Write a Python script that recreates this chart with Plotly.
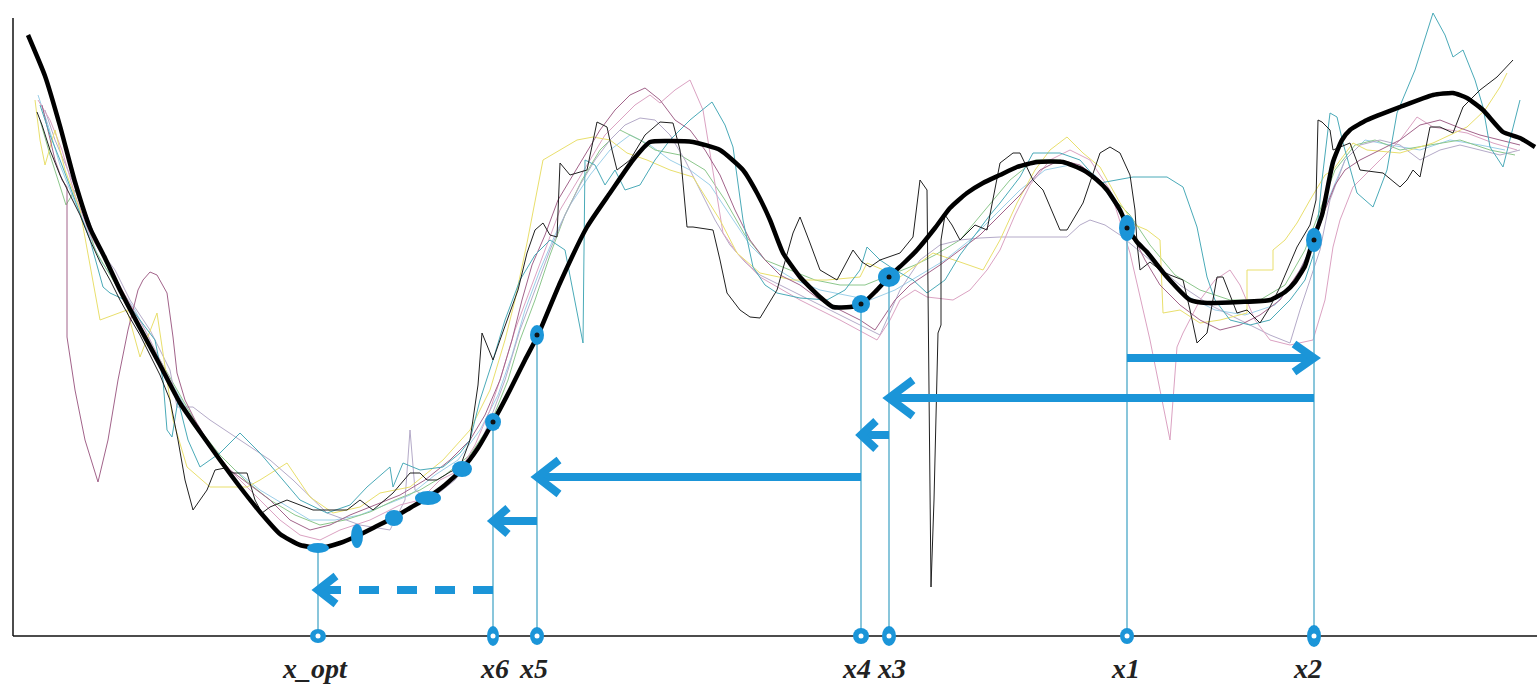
import plotly.graph_objects as go

# ---------------------------------------------------------------- data
# smoothed objective (thick black curve): (x, f)
mean_curve = [
    (28, 601), (45, 560), (60, 510), (75, 454), (90, 408), (105, 378), (120, 346),
    (140, 308), (160, 271), (180, 233), (200, 204), (220, 176), (240, 149), (260, 124),
    (280, 102), (300, 91), (320, 88), (340, 93), (357, 100), (375, 109), (393, 118),
    (410, 128), (427, 138), (445, 151), (462, 167), (478, 188), (493, 214), (510, 246),
    (525, 276), (538, 301), (560, 353), (587, 409), (610, 443), (633, 476), (650, 494),
    (670, 495), (693, 494), (720, 486), (743, 466), (757, 443), (770, 416), (783, 383),
    (800, 359), (820, 339), (833, 329), (850, 329), (862, 332), (875, 344), (889, 359),
    (905, 374), (917, 386), (935, 408), (950, 428), (967, 443), (983, 453), (1000, 461),
    (1017, 469), (1037, 474), (1063, 474), (1083, 466), (1097, 456), (1107, 446),
    (1120, 426), (1128, 408), (1137, 394), (1147, 384), (1167, 359), (1190, 336),
    (1207, 333), (1240, 334), (1270, 336), (1285, 344), (1295, 354), (1305, 370),
    (1313, 396), (1322, 421), (1333, 474), (1342, 496), (1350, 506), (1367, 516),
    (1400, 529), (1433, 541), (1453, 543), (1467, 538), (1483, 526), (1503, 504),
    (1520, 498), (1535, 489),
]

# individual noisy runs: (x, f)
run_black = [
    (37, 524), (42, 511), (50, 486), (60, 461), (70, 441), (80, 421), (90, 396), (100, 374),
    (110, 356), (120, 336), (130, 318), (140, 301), (150, 281), (160, 261), (170, 236),
    (178, 196), (185, 156), (193, 126), (200, 136), (207, 146), (215, 166), (225, 168),
    (233, 163), (247, 163), (255, 136), (262, 123), (270, 129), (287, 136), (300, 131),
    (313, 126), (347, 126), (360, 136), (373, 126), (393, 143), (410, 163), (420, 163),
    (427, 156), (437, 156), (450, 164), (460, 169), (470, 196), (478, 251), (482, 303),
    (487, 291), (493, 276), (500, 296), (510, 323), (518, 346), (527, 383), (535, 406),
    (543, 413), (550, 401), (557, 399), (560, 473), (570, 461), (587, 466), (597, 514),
    (607, 509), (612, 486), (617, 466), (630, 476), (645, 501), (660, 514), (673, 513),
    (680, 486), (687, 409), (693, 409), (713, 406), (720, 376), (727, 343), (740, 326),
    (750, 319), (760, 318), (777, 346), (793, 403), (800, 419), (810, 393), (820, 366),
    (837, 356), (853, 386), (862, 374), (870, 369), (880, 376), (900, 383), (913, 399),
    (920, 456), (927, 446), (928, 336), (929, 216), (930, 116), (931, 49), (934, 136),
    (936, 236), (938, 303), (941, 311), (941, 396), (945, 421), (952, 411), (960, 396),
    (975, 411), (987, 406), (995, 446), (1000, 473), (1013, 483), (1020, 483), (1033, 456),
    (1043, 446), (1060, 406), (1067, 406), (1083, 433), (1100, 483), (1110, 489),
    (1120, 483), (1130, 461), (1135, 426), (1137, 393), (1140, 366), (1150, 374),
    (1160, 366), (1170, 361), (1183, 356), (1190, 326), (1197, 293), (1207, 303),
    (1217, 359), (1223, 359), (1237, 323), (1247, 326), (1260, 313), (1270, 329),
    (1280, 349), (1297, 389), (1310, 411), (1316, 436), (1318, 516), (1322, 514),
    (1330, 506), (1333, 486), (1350, 493), (1360, 466), (1383, 463), (1400, 449),
    (1407, 456), (1413, 466), (1420, 459), (1430, 509), (1440, 509), (1453, 503),
    (1463, 529), (1480, 546), (1497, 559), (1513, 576),
]

run_teal = [
    (40, 531), (50, 501), (60, 476), (75, 436), (90, 396), (103, 349), (110, 343),
    (125, 336), (140, 316), (155, 296), (163, 256), (167, 206), (172, 199), (178, 236),
    (188, 196), (200, 169), (220, 183), (240, 203), (260, 183), (277, 163), (300, 136),
    (327, 123), (350, 131), (367, 149), (390, 169), (393, 149), (403, 173), (420, 166),
    (443, 169), (460, 183), (470, 196), (480, 236), (493, 276), (505, 316), (520, 356),
    (535, 381), (550, 396), (565, 386), (575, 336), (583, 293), (585, 476), (595, 471),
    (605, 451), (615, 466), (625, 446), (640, 451), (655, 476), (670, 496), (690, 516),
    (712, 534), (725, 511), (733, 489), (743, 416), (753, 369), (765, 351), (777, 343),
    (800, 338), (827, 336), (845, 346), (860, 366), (867, 389), (880, 376), (895, 366),
    (913, 356), (927, 343), (945, 356), (960, 381), (975, 401), (990, 421), (1000, 433),
    (1020, 459), (1033, 483), (1060, 483), (1080, 476), (1100, 453), (1133, 459),
    (1167, 459), (1183, 449), (1197, 409), (1207, 359), (1215, 336), (1230, 316),
    (1250, 311), (1270, 316), (1290, 336), (1305, 356), (1315, 386), (1322, 456),
    (1330, 523), (1337, 519), (1343, 493), (1357, 443), (1373, 429), (1387, 466),
    (1397, 523), (1415, 566), (1433, 623), (1445, 601), (1453, 579), (1463, 586),
    (1475, 556), (1483, 529), (1490, 489), (1503, 469), (1510, 496), (1520, 536),
]

run_yellow = [
    (35, 536), (40, 496), (45, 471), (55, 506), (65, 466), (80, 426), (100, 316),
    (127, 326), (140, 279), (157, 323), (173, 216), (187, 169), (210, 149), (247, 149),
    (260, 156), (287, 173), (310, 139), (333, 123), (360, 129), (380, 143), (410, 149),
    (443, 176), (470, 206), (490, 246), (505, 296), (515, 336), (527, 393), (543, 476),
    (560, 486), (577, 496), (593, 499), (610, 496), (627, 483), (647, 476), (670, 466),
    (693, 459), (703, 443), (720, 416), (737, 383), (760, 363), (793, 356), (827, 356),
    (860, 359), (867, 373), (900, 359), (933, 383), (960, 374), (983, 366), (1000, 396),
    (1017, 433), (1035, 466), (1050, 486), (1067, 499), (1083, 483), (1100, 469),
    (1120, 433), (1135, 411), (1147, 406), (1160, 396), (1163, 323), (1180, 326),
    (1200, 313), (1220, 316), (1247, 323), (1247, 366), (1273, 366), (1273, 386),
    (1285, 396), (1297, 413), (1310, 436), (1325, 461), (1333, 466), (1353, 493),
    (1367, 486), (1400, 483), (1433, 493), (1467, 509), (1485, 526), (1500, 549),
    (1507, 563),
]

run_pink = [
    (38, 536), (50, 516), (62, 486), (75, 441), (90, 401), (108, 371), (125, 341),
    (145, 306), (165, 266), (185, 226), (205, 196), (230, 166), (255, 141), (280, 116),
    (300, 101), (320, 96), (340, 106), (370, 116), (400, 131), (420, 136), (440, 156),
    (460, 166), (475, 191), (490, 226), (500, 256), (515, 306), (530, 346), (545, 386),
    (560, 426), (575, 451), (590, 476), (605, 501), (620, 516), (635, 531), (650, 541),
    (660, 533), (675, 546), (690, 556), (703, 526), (713, 466), (723, 403), (737, 383),
    (760, 359), (800, 336), (840, 316), (877, 296), (890, 316), (900, 336), (915, 346),
    (927, 339), (953, 336), (970, 346), (987, 366), (1000, 386), (1015, 421), (1030, 451),
    (1050, 476), (1070, 486), (1090, 476), (1110, 446), (1123, 406), (1130, 383),
    (1150, 296), (1170, 196), (1177, 289), (1183, 303), (1200, 336), (1215, 356),
    (1230, 366), (1240, 351), (1255, 316), (1270, 296), (1290, 291), (1313, 296),
    (1325, 336), (1333, 389), (1340, 416), (1353, 449), (1370, 466), (1385, 481),
    (1400, 496), (1417, 519), (1433, 509), (1467, 503), (1493, 493), (1517, 486),
]

run_maroon = [
    (42, 531), (48, 506), (55, 476), (62, 456), (67, 449), (67, 299), (75, 246),
    (85, 196), (98, 154), (108, 196), (118, 256), (128, 306), (138, 346), (143, 356),
    (150, 364), (157, 361), (167, 343), (173, 299), (177, 263), (185, 236), (195, 216),
    (210, 191), (230, 166), (250, 151), (270, 136), (290, 116), (310, 106), (330, 111),
    (350, 121), (375, 131), (400, 141), (425, 156), (450, 176), (470, 196), (485, 221),
    (500, 256), (512, 296), (522, 336), (532, 371), (545, 401), (558, 436), (570, 456),
    (585, 481), (600, 506), (615, 526), (630, 541), (645, 548), (660, 536), (675, 516),
    (690, 506), (705, 486), (720, 461), (735, 426), (750, 396), (765, 376), (780, 361),
    (800, 351), (820, 336), (840, 326), (860, 316), (875, 306), (885, 321), (895, 336),
    (910, 351), (925, 361), (940, 371), (960, 386), (980, 401), (1000, 421), (1020, 441),
    (1040, 466), (1060, 476), (1080, 471), (1100, 456), (1115, 436), (1130, 406),
    (1145, 376), (1160, 351), (1180, 331), (1200, 316), (1220, 306), (1240, 311),
    (1260, 321), (1280, 336), (1300, 366), (1315, 396), (1325, 426), (1335, 451),
    (1345, 466), (1360, 476), (1380, 486), (1400, 496), (1420, 511), (1440, 516),
    (1460, 508), (1480, 501), (1500, 496), (1520, 491),
]

run_lavender = [
    (45, 526), (55, 496), (70, 461), (85, 426), (100, 386), (115, 366), (130, 336),
    (150, 306), (170, 266), (177, 229), (193, 229), (210, 216), (240, 196), (270, 176),
    (293, 156), (327, 123), (360, 111), (390, 106), (405, 136), (410, 206), (415, 146),
    (430, 136), (455, 156), (475, 181), (490, 216), (505, 256), (520, 306), (535, 346),
    (550, 386), (565, 421), (580, 451), (595, 476), (610, 496), (625, 511), (640, 518),
    (655, 516), (670, 501), (685, 476), (700, 446), (715, 416), (730, 391), (745, 374),
    (760, 361), (780, 351), (800, 341), (830, 326), (860, 311), (880, 301), (900, 346),
    (920, 376), (940, 391), (960, 396), (980, 398), (1000, 399), (1067, 399), (1080, 411),
    (1090, 416), (1105, 411), (1120, 401), (1150, 376), (1180, 351), (1210, 331),
    (1240, 316), (1270, 301), (1290, 293), (1300, 326), (1310, 356), (1320, 386),
    (1330, 436), (1345, 476), (1360, 491), (1380, 496), (1400, 491), (1420, 476),
    (1440, 486), (1460, 491), (1480, 486), (1500, 481), (1520, 486),
]

run_green = [
    (40, 516), (50, 481), (58, 456), (66, 431), (75, 446), (85, 421), (95, 386),
    (110, 361), (125, 336), (140, 311), (160, 276), (180, 241), (200, 206), (220, 181),
    (245, 156), (270, 136), (295, 121), (320, 111), (345, 116), (370, 124), (395, 136),
    (420, 146), (445, 161), (470, 181), (490, 211), (508, 256), (520, 296), (535, 336),
    (550, 381), (565, 421), (582, 456), (600, 486), (620, 506), (640, 496), (655, 486),
    (680, 481), (705, 466), (725, 436), (745, 401), (765, 376), (790, 366), (815, 356),
    (840, 351), (865, 351), (890, 361), (915, 371), (935, 381), (960, 396), (985, 426),
    (1010, 456), (1035, 476), (1060, 476), (1085, 466), (1110, 441), (1130, 421),
    (1150, 391), (1175, 361), (1200, 346), (1230, 336), (1260, 336), (1285, 351),
    (1305, 386), (1320, 426), (1335, 466), (1355, 491), (1375, 496), (1400, 486),
    (1430, 491), (1460, 496), (1490, 486), (1515, 481),
]

run_skyblue = [
    (38, 541), (48, 511), (60, 471), (72, 441), (85, 411), (100, 376), (118, 351),
    (135, 326), (150, 296), (170, 256), (190, 221), (210, 191), (235, 166), (260, 146),
    (285, 131), (310, 116), (335, 116), (360, 121), (385, 131), (410, 141), (435, 161),
    (458, 176), (480, 206), (498, 241), (512, 281), (525, 326), (540, 366), (555, 401),
    (570, 431), (590, 461), (610, 486), (630, 501), (650, 491), (670, 476), (690, 466),
    (710, 451), (730, 421), (750, 391), (770, 371), (795, 356), (820, 346), (845, 341),
    (870, 336), (895, 346), (920, 361), (945, 376), (970, 396), (995, 421), (1020, 446),
    (1045, 466), (1070, 471), (1095, 461), (1115, 431), (1135, 396), (1160, 366),
    (1185, 341), (1215, 326), (1245, 321), (1275, 331), (1295, 356), (1312, 391),
    (1328, 436), (1345, 476), (1365, 496), (1390, 491), (1420, 486), (1450, 496),
    (1480, 491), (1505, 486),
]

# search iterates: name, x position, objective value at x
iterate_names = ["x1", "x2", "x3", "x4", "x5", "x6", "x_opt"]
iterate_x = [1127, 1314, 889, 861, 537, 493, 318]
iterate_f = [408, 396, 359, 332, 301, 214, 88]

# final descent steps between x6 and x_opt
descent_x = [462, 428, 394, 357]
descent_f = [167, 138, 118, 100]

# moves between iterates: (from, to)
moves = [("x1", "x2"), ("x2", "x3"), ("x3", "x4"), ("x4", "x5"), ("x5", "x6"), ("x6", "x_opt")]

# ---------------------------------------------------------------- styles
BLUE = "#1b95d8"
DROP = "#62b3cf"
runs = [
    (run_skyblue, "#9ccfe9"),
    (run_green, "#8cc78c"),
    (run_lavender, "#b4aac8"),
    (run_pink, "#dba2c2"),
    (run_yellow, "#e9df6c"),
    (run_maroon, "#a2638a"),
    (run_teal, "#4aaab8"),
    (run_black, "#202020"),
]
# ellipse sizes (w, h) for markers on the curve and on the axis
curve_marker_size = {"x1": (16, 26), "x2": (16, 24), "x3": (22, 20), "x4": (18, 18),
                     "x5": (14, 20), "x6": (16, 18), "x_opt": (22, 10)}
descent_marker_size = [(20, 16), (26, 14), (18, 16), (12, 24)]
axis_marker_size = {"x1": (14, 16), "x2": (14, 22), "x3": (14, 20), "x4": (16, 16),
                    "x5": (14, 18), "x6": (12, 20), "x_opt": (16, 14)}
move_level = [278, 238, 201, 159, 115, 46]
move_head = [(20, 14), (24, 18), (15, 14), (22, 17), (15, 13), (18, 14)]
# horizontal nudge of each label relative to its point (px)
label_shift = {"x1": -2, "x2": -7, "x3": 2, "x4": -5, "x5": -4, "x6": 1, "x_opt": -3}
LABEL_FONT = dict(family="Liberation Serif", size=28, color="#222222")

fig = go.Figure()

# noisy runs
for pts, col in runs:
    xs, ys = zip(*pts)
    fig.add_trace(go.Scatter(x=xs, y=ys, mode="lines",
                             line=dict(color=col, width=1), hoverinfo="skip"))

# smoothed curve
mx, my = zip(*mean_curve)
fig.add_trace(go.Scatter(x=mx, y=my, mode="lines",
                         line=dict(color="#000000", width=4.5, shape="spline", smoothing=0.5),
                         hoverinfo="skip"))

# axes
fig.add_shape(type="line", xref="x", yref="y", x0=13, x1=1537, y0=0, y1=0,
              line=dict(color="#111111", width=1.5))
fig.add_shape(type="line", xref="x", yref="y", x0=13, x1=13, y0=0, y1=618,
              line=dict(color="#111111", width=1.5))

pos = dict(zip(iterate_names, iterate_x))
val = dict(zip(iterate_names, iterate_f))

# drop lines from the curve to the axis
for n in iterate_names:
    fig.add_trace(go.Scatter(x=[pos[n], pos[n]], y=[val[n], 0], mode="lines",
                             line=dict(color=DROP, width=1.5), hoverinfo="skip"))

# move arrows
for (a, b), lvl, (hx, hy) in zip(moves, move_level, move_head):
    x0, x1 = pos[a], pos[b]
    sgn = 1 if x1 > x0 else -1
    dashed = b == "x_opt"
    fig.add_trace(go.Scatter(x=[x0, x1], y=[lvl, lvl], mode="lines",
                             line=dict(color=BLUE, width=8,
                                       dash="20px,18px" if dashed else "solid"),
                             hoverinfo="skip"))
    fig.add_trace(go.Scatter(x=[x1 - sgn * hx, x1, x1 - sgn * hx],
                             y=[lvl + hy, lvl, lvl - hy], mode="lines",
                             line=dict(color=BLUE, width=8), hoverinfo="skip"))


def blob(x, y, w, h, color=BLUE):
    fig.add_shape(type="circle", xref="x", yref="y",
                  x0=x - w / 2, x1=x + w / 2, y0=y - h / 2, y1=y + h / 2,
                  fillcolor=color, line=dict(width=0), layer="above")


for n in iterate_names:
    blob(pos[n], val[n], *curve_marker_size[n])
    blob(pos[n], 0, *axis_marker_size[n])
for x, f, s in zip(descent_x, descent_f, descent_marker_size):
    blob(x, f, *s)

# ring centres: dark on the curve, white on the axis
for n in iterate_names:
    if n != "x_opt":
        blob(pos[n], val[n], 5, 5, "#111111")
    blob(pos[n], 0, 5, 5, "#ffffff")

# iterate labels
for n in iterate_names:
    fig.add_annotation(x=pos[n], y=-32, xref="x", yref="y", showarrow=False,
                       xshift=label_shift[n],
                       text=f"<b><i>{n}</i></b>", font=LABEL_FONT)

fig.update_layout(
    width=1537, height=691,
    margin=dict(l=0, r=0, t=0, b=0),
    paper_bgcolor="white", plot_bgcolor="white",
    showlegend=False,
    xaxis=dict(range=[0, 1537], visible=False, fixedrange=True),
    yaxis=dict(range=[-55, 636], visible=False, fixedrange=True),
)

fig.write_html("out.html")
